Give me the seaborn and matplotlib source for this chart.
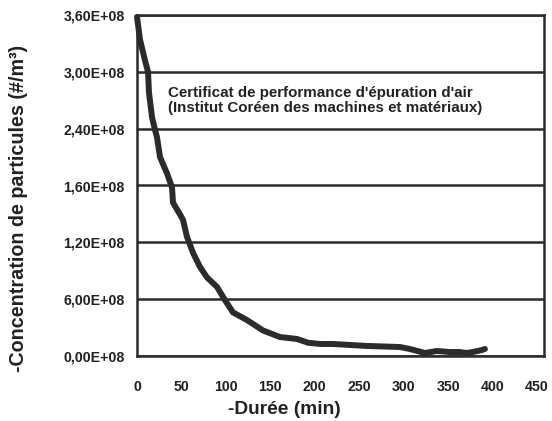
import matplotlib
matplotlib.use("Agg")
import matplotlib.pyplot as plt
import seaborn as sns
import pandas as pd

# Particle concentration measured over time (minutes, units of 1e8 #/m3)
minutes = [0, 3.4, 9.0, 12.4, 13.5, 16.9, 20.2, 22.5, 25.9, 33.7, 39.4, 40.5,
           51.7, 56.2, 63.0, 70.9, 78.7, 90.0, 99.0, 108.0, 123.7, 141.7,
           160.9, 180.0, 192.4, 206.0, 220.5, 258.7, 295.8, 307.0, 324.0,
           337.5, 352.0, 363.0, 371.0, 378.0, 388.0, 391.5]
concentration_e8 = [3.58, 3.34, 3.12, 3.00, 2.78, 2.52, 2.39, 2.31, 2.10, 1.93,
                    1.78, 1.62, 1.44, 1.26, 1.09, 0.94, 0.83, 0.73, 0.59, 0.46,
                    0.38, 0.27, 0.20, 0.18, 0.14, 0.127, 0.127, 0.106, 0.095,
                    0.074, 0.032, 0.053, 0.042, 0.042, 0.032, 0.042, 0.063, 0.074]

x_ticks = [0, 50, 100, 150, 200, 250, 300, 350, 400, 450]
y_ticks = [0.0, 0.6, 1.2, 1.8, 2.4, 3.0, 3.6]
y_tick_labels = ["0,00E+08", "6,00E+08", "1,20E+08", "1,60E+08",
                 "2,40E+08", "3,00E+08", "3,60E+08"]

df = pd.DataFrame({"minutes": minutes, "conc": concentration_e8})

sns.set_theme(style="white")
plt.rcParams["font.family"] = ["Liberation Sans", "DejaVu Sans"]

W, H = 552, 421
L, R, T, B = 137, 544, 15, 356
fig = plt.figure(figsize=(W / 100, H / 100), dpi=100)
ax = fig.add_axes([L / W, 1 - B / H, (R - L) / W, (B - T) / H])

ink = "#2b2b2b"
txt = "#222222"
sns.lineplot(data=df, x="minutes", y="conc", ax=ax, color=ink, linewidth=4.3,
             solid_capstyle="round", solid_joinstyle="round", clip_on=False,
             zorder=3)

ax.set_xlim(0, 458)
ax.set_ylim(0, 3.6)
ax.set_xticks(x_ticks)
ax.set_yticks(y_ticks)
ax.set_yticklabels(y_tick_labels)
ax.tick_params(axis="both", length=0, labelsize=10.2, colors=txt)
ax.tick_params(axis="x", pad=17)
ax.tick_params(axis="y", pad=9)
for lbl in ax.get_xticklabels() + ax.get_yticklabels():
    lbl.set_fontweight("bold")

ax.yaxis.grid(True, color=ink, linewidth=1.8)
ax.xaxis.grid(False)
ax.set_axisbelow(True)
for sp in ax.spines.values():
    sp.set_visible(True)
    sp.set_color(ink)
    sp.set_linewidth(1.8)

ax.set_xlabel("-Durée (min)", fontsize=13.8, fontweight="bold", color=txt)
ax.set_ylabel("-Concentration de particules (#/m³)", fontsize=14.2,
              fontweight="bold", color=txt)
ax.xaxis.set_label_coords((284 - L) / (R - L), -(401 - B) / (B - T))
ax.yaxis.set_label_coords(-(L - 28) / (R - L), (B - 208) / (B - T))

ax.text(35, 2.70, "Certificat de performance d'épuration d'air\n"
        "(Institut Coréen des machines et matériaux)",
        fontsize=10.9, fontweight="bold", color=txt,
        va="center", ha="left", linespacing=1.1)

fig.savefig("out.png", dpi=100)
